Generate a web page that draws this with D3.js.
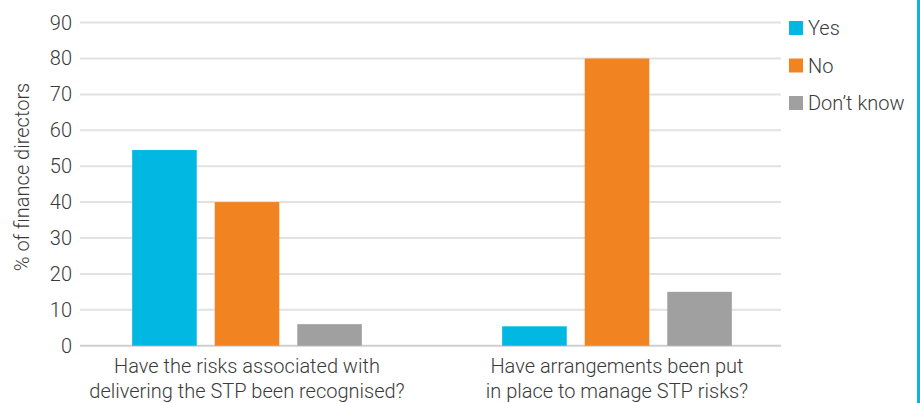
<!DOCTYPE html>
<html>
<head>
<meta charset="utf-8">
<script src="https://cdn.jsdelivr.net/npm/d3@7"></script>
<style>
  html, body { margin: 0; padding: 0; background: #fff; }
  svg text { font-family: Roboto, "Liberation Sans", sans-serif; font-weight: 300; fill: #3a3a3a; }
</style>
</head>
<body>
<svg id="chart" width="920" height="403"></svg>
<script>
// Survey questions (x categories), split over two lines each
const categories = [
  ["Have the risks associated with", "delivering the STP been recognised?"],
  ["Have arrangements been put", "in place to manage STP risks?"]
];
const seriesNames = ["Yes", "No", "Don't know"];
const yesValues = [54.5, 5.4];
const noValues = [40, 80];
const dontKnowValues = [6, 15];
const yTicks = [0, 10, 20, 30, 40, 50, 60, 70, 80, 90];
const colors = ["#00b8e1", "#f28321", "#a0a0a0"];

const FONT = "Roboto, 'Liberation Sans', sans-serif";
const FS = 20;

const seriesValues = [yesValues, noValues, dontKnowValues];
const rows = categories.map((c, i) => ({
  key: i,
  values: seriesNames.map((s, j) => ({ series: s, value: seriesValues[j][i], color: colors[j] }))
}));

const svg = d3.select("#chart");

const gridLeft = 80, gridRight = 781;
const y = d3.scaleLinear().domain([0, 90]).range([345.7, 22.6]);

const x0 = d3.scaleBand().domain(rows.map(r => r.key)).range([62, 802]).padding(0);
const x1 = d3.scaleBand().domain(seriesNames).range([0, x0.bandwidth()])
  .paddingInner(0.218).paddingOuter(0.85);

// Horizontal gridlines
svg.append("g")
  .selectAll("line")
  .data(yTicks)
  .join("line")
  .attr("x1", gridLeft).attr("x2", gridRight)
  .attr("y1", d => y(d)).attr("y2", d => y(d))
  .attr("stroke", d => d === 0 ? "#cfcfcf" : "#e2e2e2")
  .attr("stroke-width", 2);

// Y axis tick labels
const yAxis = d3.axisLeft(y).tickValues(yTicks).tickSize(0).tickPadding(0);
const yg = svg.append("g").attr("transform", `translate(72,0)`).call(yAxis);
yg.select(".domain").remove();
yg.selectAll("text").attr("font-size", FS).attr("fill", "#3a3a3a")
  .style("font-family", FONT).style("font-weight", 300);

// Y axis title
svg.append("text")
  .attr("transform", "translate(29,177) rotate(-90)")
  .attr("text-anchor", "middle")
  .attr("font-size", FS)
  .text("% of finance directors");

// Bars
const groups = svg.append("g")
  .selectAll("g")
  .data(rows)
  .join("g")
  .attr("transform", d => `translate(${x0(d.key)},0)`);

groups.selectAll("rect")
  .data(d => d.values)
  .join("rect")
  .attr("x", d => x1(d.series))
  .attr("width", x1.bandwidth())
  .attr("y", d => y(d.value))
  .attr("height", d => y(0) - y(d.value))
  .attr("fill", d => d.color);

// Category labels
const catLabels = svg.append("g")
  .selectAll("text")
  .data(rows)
  .join("text")
  .attr("x", d => x0(d.key) + x0.bandwidth() / 2)
  .attr("y", 373)
  .attr("text-anchor", "middle")
  .attr("font-size", FS);
catLabels.selectAll("tspan")
  .data(d => categories[d.key])
  .join("tspan")
  .attr("x", function () { return d3.select(this.parentNode).attr("x"); })
  .attr("dy", (d, i) => i === 0 ? 0 : 25)
  .text(d => d);

// Legend
const legend = svg.append("g")
  .selectAll("g")
  .data(seriesNames)
  .join("g")
  .attr("transform", (d, i) => `translate(789,${21 + i * 37.5})`);
legend.append("rect")
  .attr("width", 14).attr("height", 14)
  .attr("fill", (d, i) => colors[i]);
legend.append("text")
  .attr("x", 19).attr("y", 14)
  .attr("font-size", FS)
  .text(d => d.replace("'", "\u2019"));

// Right border rule
svg.append("rect")
  .attr("x", 917).attr("y", 0)
  .attr("width", 3).attr("height", 403)
  .attr("fill", "#00b8e1");
</script>
</body>
</html>
